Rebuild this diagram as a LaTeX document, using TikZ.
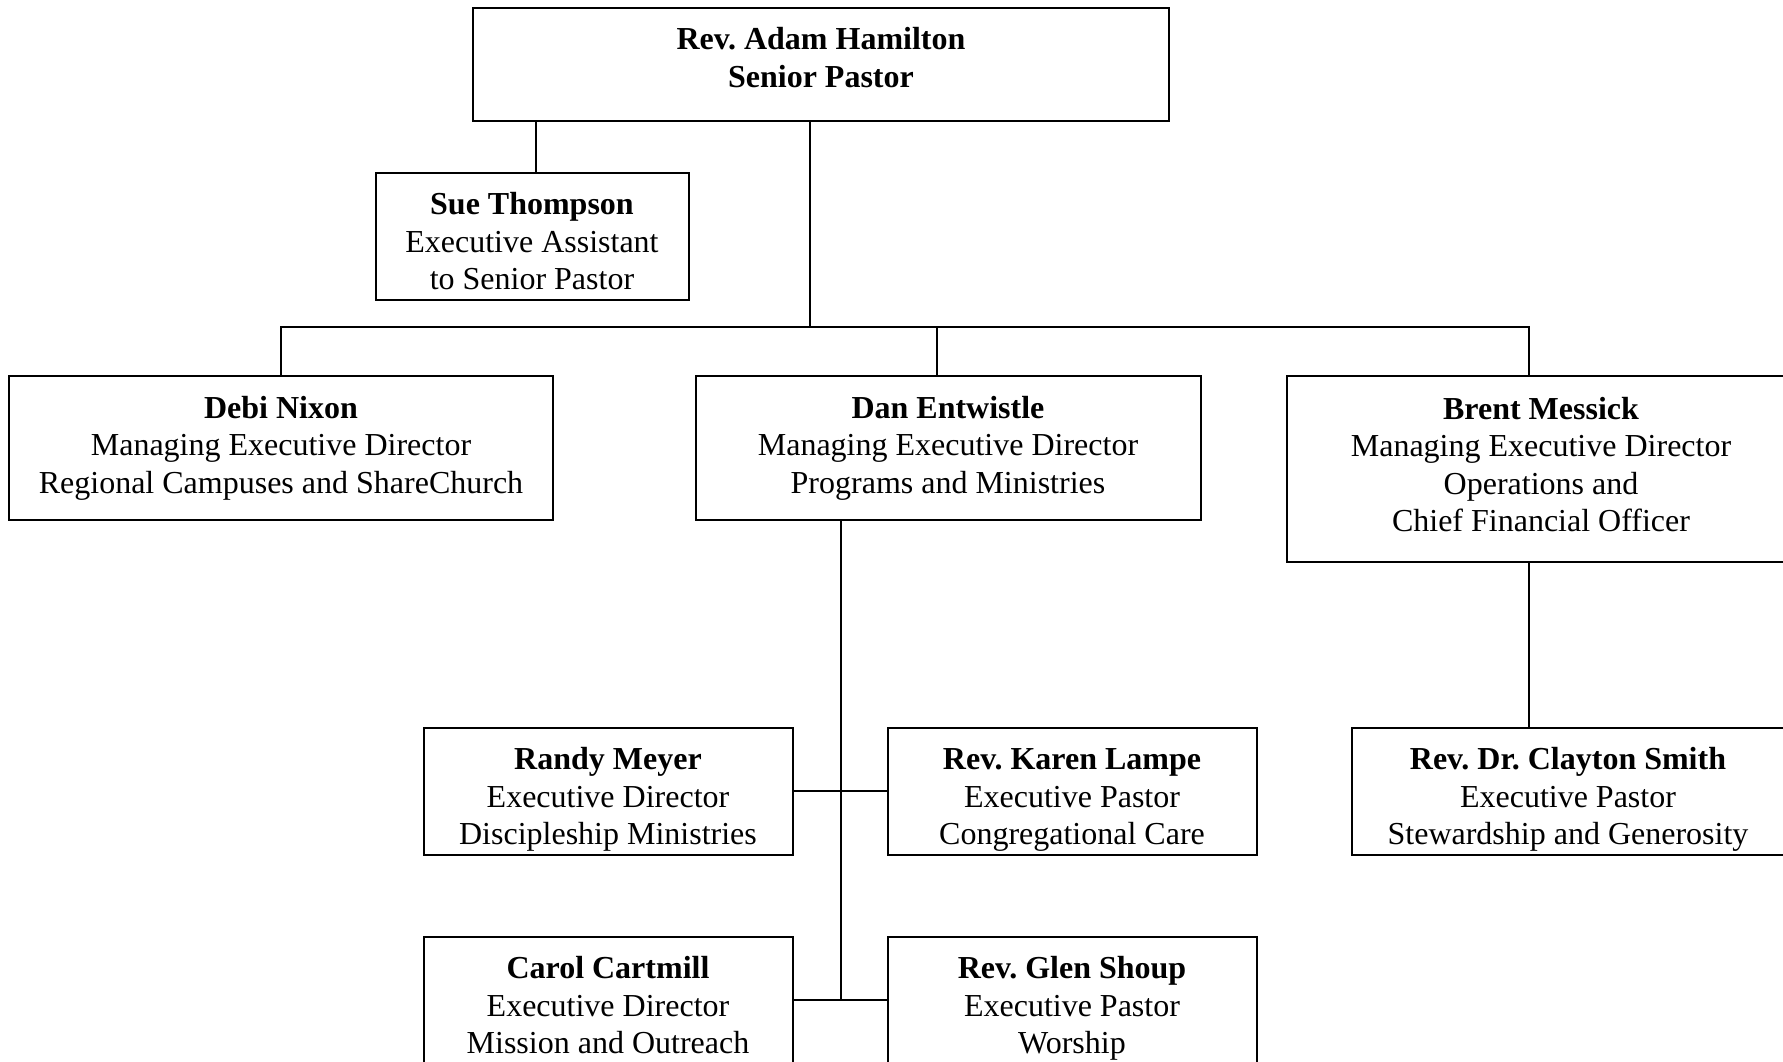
\documentclass[tikz,border=0pt]{standalone}
\usepackage{fontspec}
\setmainfont{Liberation Serif}
\usetikzlibrary{positioning}

\begin{document}
\begin{tikzpicture}[x=1pt, y=-1pt, line width=2pt,
	post/.style={draw, line width=2pt, align=center, inner sep=0pt,
		font=\fontsize{32}{37.5}\selectfont},
	exec/.style={post, minimum width=369pt, minimum height=127pt,
		text height=107pt, text depth=0pt}]

\useasboundingbox (0, 0) rectangle (1783, 1061);
\clip (0, 0) rectangle (1783, 1061);

% top
\node[post, minimum width=696pt, minimum height=113pt] (adam) at (821, 64)
	{\textbf{Rev.\ Adam Hamilton}\\ \textbf{Senior Pastor}\\[-24pt]};
\node[exec, minimum width=313pt] (sue) at (532, 236)
	{\textbf{Sue Thompson}\\ Executive Assistant\\ to Senior Pastor};

% managing directors
\node[post, minimum width=544pt, minimum height=144pt] (debi) at (281, 448)
	{\textbf{Debi Nixon}\\ Managing Executive Director\\ Regional Campuses and ShareChurch};
\node[post, minimum width=505pt, minimum height=144pt] (dan) at (948, 448)
	{\textbf{Dan Entwistle}\\ Managing Executive Director\\ Programs and Ministries};
\node[post, minimum width=508pt, minimum height=186pt] (brent) at (1541, 469)
	{\textbf{Brent Messick}\\ Managing Executive Director\\ Operations and\\ Chief Financial Officer\\[-28pt]};

% executives
\node[exec] (randy) at (608, 791) {\textbf{Randy Meyer}\\ Executive Director\\ Discipleship Ministries};
\node[exec] (karen) at (1072, 791) {\textbf{Rev.\ Karen Lampe}\\ Executive Pastor\\ Congregational Care};
\node[exec] (carol) at (608, 1000) {\textbf{Carol Cartmill}\\ Executive Director\\ Mission and Outreach};
\node[exec] (glen) at (1072, 1000) {\textbf{Rev.\ Glen Shoup}\\ Executive Pastor\\ Worship};
\node[exec, minimum width=432pt] (clayton) at (1568, 791)
	{\textbf{Rev.\ Dr.\ Clayton Smith}\\ Executive Pastor\\ Stewardship and Generosity};

% lines
\coordinate (bus) at (810, 327);
\coordinate (dt) at (841, 1000);
\coordinate (bc) at (1529, 562);

\draw ([xshift=4pt]sue.north) -- ([xshift=4pt]sue.north |- adam.south);
\draw (adam.south -| bus) -- (bus);
\draw (debi.north) |- (bus) -| (bc |- dan.north);
\draw (bus) -| ([xshift=-11pt]dan.north);
\draw (dan.south -| dt) -- (dt);
\draw (randy.east) -- (karen.west);
\draw (carol.east) -- (glen.west);
\draw (bc) -- (bc |- clayton.north);

\end{tikzpicture}
\end{document}
